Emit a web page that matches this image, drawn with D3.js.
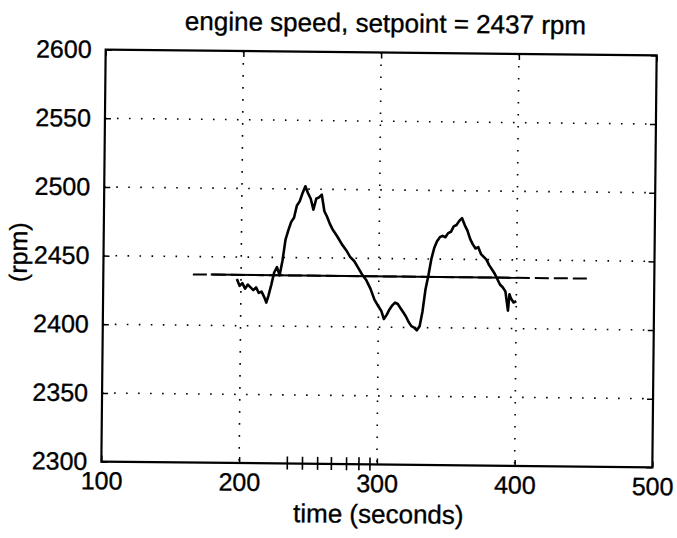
<!DOCTYPE html>
<html>
<head>
<meta charset="utf-8">
<script src="https://cdn.jsdelivr.net/npm/d3@7"></script>
<style>
  body { margin: 0; background: #fff; }
  text { font-family: "Liberation Sans", Arial, sans-serif; fill: #000; stroke: #000; stroke-width: 0.35; }
  .grid line { stroke: #000; stroke-width: 1.6; stroke-dasharray: 1.6,10.4; }
</style>
</head>
<body>
<svg width="677" height="538"></svg>
<script>
// engine speed trace
var time = [197, 199, 201, 203, 205, 207, 209, 211, 213, 215, 217, 218.5, 220, 222, 224, 226, 228, 230,
  232, 234, 236, 238, 240, 242, 244, 246, 248, 250, 252, 254, 256, 258, 260, 262, 264, 266, 268, 270,
  273, 276, 279, 282, 285, 288, 291, 294, 297, 300, 302, 304, 306, 308, 310, 312, 314, 316, 318, 320,
  322, 324, 326, 328, 330, 332, 334, 336, 338, 340, 342, 344, 346, 348, 350, 352, 354, 356, 358, 360,
  362, 364, 366, 368, 370, 372, 374, 376, 378, 380, 382, 384, 386, 388, 390, 392, 394, 395, 396, 398, 400];
var rpm = [2434, 2429, 2431, 2427, 2430, 2428, 2426, 2428, 2424, 2425, 2421, 2417, 2422, 2430, 2439, 2443, 2437, 2448,
  2463, 2470, 2476, 2479, 2488, 2491, 2497, 2502, 2497, 2493, 2485, 2493, 2494, 2496, 2484, 2480, 2475, 2471, 2468, 2465,
  2460, 2456, 2451, 2448, 2443, 2438, 2434, 2428, 2420, 2415, 2412, 2406, 2409, 2413, 2416, 2418, 2417, 2414, 2411, 2408,
  2404, 2401, 2400, 2398, 2401, 2412, 2428, 2438, 2450, 2458, 2463, 2466, 2467, 2466, 2469, 2470, 2474, 2475, 2478, 2480,
  2475, 2471, 2465, 2461, 2458, 2459, 2454, 2452, 2450, 2446, 2443, 2440, 2436, 2432, 2430, 2427, 2413, 2425, 2422, 2419, 2420];

var setpoint = 2437;
var setpointDashed = [165, 453];
var setpointSolid = [178, 400];
var markTimes = [235, 246, 257, 267, 278, 287, 295];

var xTicks = [100, 200, 300, 400, 500];
var yTicks = [2300, 2350, 2400, 2450, 2500, 2550, 2600];

var svg = d3.select("svg");
var plotLeft = 103.5, plotRight = 654.5, plotTop = 52.5, plotBottom = 464.5;

// the scan is a little crooked
var g = svg.append("g").attr("transform", "rotate(0.6,379,258.5)");

var x = d3.scaleLinear().domain([100, 500]).range([plotLeft, plotRight]);
var y = d3.scaleLinear().domain([2300, 2600]).range([plotBottom, plotTop]);

// dotted grid
var grid = g.append("g").attr("class", "grid");
grid.selectAll(".gx")
  .data(xTicks.slice(1, -1))
  .enter().append("line")
  .attr("x1", d => x(d)).attr("x2", d => x(d))
  .attr("y1", plotTop).attr("y2", plotBottom);
grid.selectAll(".gy")
  .data(yTicks.slice(1, -1))
  .enter().append("line")
  .attr("x1", plotLeft).attr("x2", plotRight)
  .attr("y1", d => y(d)).attr("y2", d => y(d));

// axes, ticks pointing inside like matlab
g.append("g")
  .attr("transform", "translate(0," + plotBottom + ")")
  .call(d3.axisBottom(x).tickValues(xTicks).tickSize(-6).tickPadding(10).tickFormat(d3.format("d")))
  .call(a => a.select(".domain").remove())
  .selectAll("text").attr("font-size", 25).attr("font-family", "Liberation Sans");
g.append("g")
  .attr("transform", "translate(" + plotLeft + ",0)")
  .call(d3.axisLeft(y).tickValues(yTicks).tickSize(-6).tickPadding(14).tickFormat(d3.format("d")))
  .call(a => a.select(".domain").remove())
  .selectAll("text").attr("font-size", 25).attr("font-family", "Liberation Sans");
g.append("g")
  .attr("transform", "translate(" + plotRight + ",0)")
  .call(d3.axisRight(y).tickValues(yTicks).tickSize(-6).tickFormat(""))
  .call(a => a.select(".domain").remove());
g.append("g")
  .attr("transform", "translate(0," + plotTop + ")")
  .call(d3.axisTop(x).tickValues(xTicks).tickSize(-6).tickFormat(""))
  .call(a => a.select(".domain").remove());
g.selectAll(".tick line").attr("stroke", "#000").attr("stroke-width", 1.5);

g.append("rect")
  .attr("x", plotLeft).attr("y", plotTop)
  .attr("width", plotRight - plotLeft).attr("height", plotBottom - plotTop)
  .attr("fill", "none").attr("stroke", "#000").attr("stroke-width", 2.2);

// odd little marks on the time axis
g.selectAll(".mark")
  .data(markTimes)
  .enter().append("line")
  .attr("x1", d => x(d)).attr("x2", d => x(d))
  .attr("y1", plotBottom - 7).attr("y2", plotBottom + 6)
  .attr("stroke", "#000").attr("stroke-width", 1.6);

// setpoint
g.append("line")
  .attr("x1", x(setpointDashed[0])).attr("x2", x(setpointDashed[1]))
  .attr("y1", y(setpoint)).attr("y2", y(setpoint))
  .attr("stroke", "#000").attr("stroke-width", 2)
  .attr("stroke-dasharray", "14,5");
g.append("line")
  .attr("x1", x(setpointSolid[0])).attr("x2", x(setpointSolid[1]))
  .attr("y1", y(setpoint)).attr("y2", y(setpoint))
  .attr("stroke", "#000").attr("stroke-width", 2);

// measured speed
var line = d3.line()
  .x((d, i) => x(time[i]))
  .y(d => y(d));
g.append("path")
  .datum(rpm)
  .attr("d", line)
  .attr("fill", "none")
  .attr("stroke", "#000")
  .attr("stroke-width", 2.6)
  .attr("stroke-linejoin", "round");

// labels
g.append("text")
  .attr("x", 383).attr("y", 32)
  .attr("text-anchor", "middle")
  .attr("font-size", 26)
  .text("engine speed, setpoint = 2437 rpm");
g.append("text")
  .attr("x", 381).attr("y", 523)
  .attr("text-anchor", "middle")
  .attr("font-size", 26)
  .text("time (seconds)");
g.append("text")
  .attr("transform", "translate(27,256) rotate(-90)")
  .attr("text-anchor", "middle")
  .attr("font-size", 25)
  .text("(rpm)");
</script>
</body>
</html>
